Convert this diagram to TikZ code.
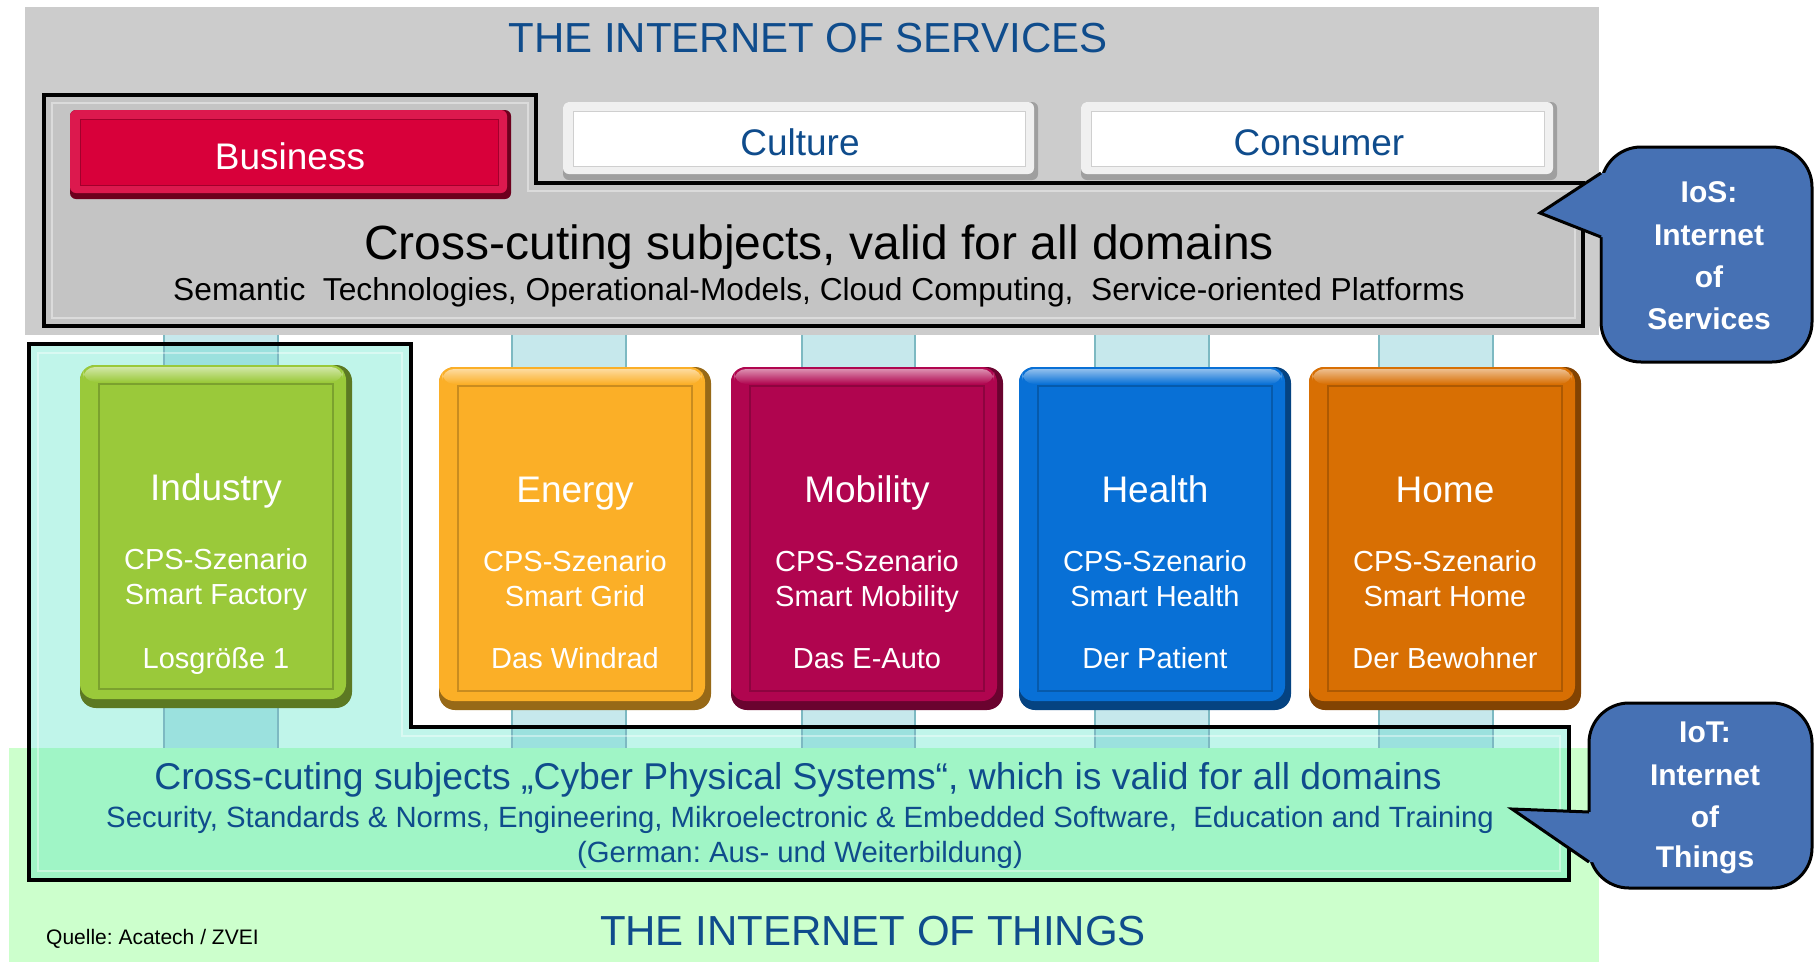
\documentclass[tikz,border=0pt]{standalone}
\usepackage{fontspec}
\setmainfont{Liberation Sans}
\frenchspacing
\definecolor{bandgray}{HTML}{CCCCCC}
\definecolor{svcgray}{HTML}{C4C4C4}
\definecolor{lightgreen}{HTML}{CCFFCC}
\definecolor{mint}{HTML}{A0F5C6}
\definecolor{cyanL}{HTML}{C0F5EA}
\definecolor{pillar}{HTML}{4FB8C7}
\definecolor{pillaredge}{HTML}{7DB9C2}
\definecolor{titleblue}{HTML}{0F4C8C}
\definecolor{calloutblue}{HTML}{4671B4}
\definecolor{bizred}{HTML}{D8003A}
\definecolor{indgreen}{HTML}{9AC93A}
\definecolor{engyellow}{HTML}{FBAF27}
\definecolor{mobmagenta}{HTML}{B0054F}
\definecolor{hlthblue}{HTML}{0870D6}
\definecolor{homeorange}{HTML}{D86F03}
\colorlet{bizedge}{bizred!50!black}
\colorlet{bizlight}{bizred!90!white}
\colorlet{tabedge}{gray!75}
\colorlet{tablight}{gray!12}
\newcommand\pxfont[1]{\fontsize{#1}{#1}\selectfont}
% domain box: x0, y0, x1, y1, colour
\newcommand\DomainBox[5]{%
  \fill[#5!60!black, rounded corners=16] (#1,#2) rectangle (#3,#4);
  \fill[#5, rounded corners=15] (#1,#2) rectangle (#3-6,#4-9);
  \shade[top color=#5!45!white, bottom color=#5, rounded corners=12] (#1+3,#2+2) rectangle (#3-9,#2+17);
  \draw[#5!80!black, line width=1.2] (#1+19,#2+19) rectangle (#3-19,#4-19);
}
% bevelled tab: x0, y0, x1, y1, face, light edge, dark edge
\newcommand\TabBox[7]{%
  \fill[#7, rounded corners=6] (#1,#2) rectangle (#3,#4);
  \fill[#6, rounded corners=6] (#1,#2) rectangle (#3-4,#4-6);
  \fill[#5] (#1+10,#2+9) rectangle (#3-13,#4-14);
  \draw[#7!50!#5, line width=1] (#1+10,#2+9) rectangle (#3-13,#4-14);
}
\begin{document}
\begin{tikzpicture}[x=1pt,y=-1pt,
  txt/.style={inner sep=0pt, anchor=base},
  bigtitle/.style={txt, text=titleblue, font=\pxfont{42}},
  tabtext/.style={txt, font=\pxfont{37}},
  domtitle/.style={txt, text=white, font=\pxfont{37}},
  domtext/.style={txt, text=white, font=\pxfont{29}},
  callouttext/.style={txt, text=white, font=\pxfont{30}\bfseries},
  calloutshape/.style={fill=calloutblue, draw=black, line width=3, rounded corners=40},
  outline/.style={draw=black, line width=4, line join=miter},
  bevel/.style={draw=white, opacity=0.4, line width=2},
  pillarbar/.style={fill=pillar, fill opacity=0.32}]
\useasboundingbox (0,0) rectangle (1816,962);
\fill[white] (0,0) rectangle (1816,962);

% background bands
\fill[bandgray] (25,7) rectangle (1599,335);
\fill[cyanL] (29,344) -- (411,344) -- (411,727) -- (1569,727) -- (1569,880) -- (29,880) -- cycle;
\fill[lightgreen] (9,748) rectangle (1599,962);
\fill[mint] (29,748) rectangle (1569,880);

% pillars linking services and things
\foreach \xa/\xb in {163/279, 511/627, 801/916, 1094/1210, 1378/1494} {
  \fill[pillarbar] (\xa,335) rectangle (\xb,748);
  \draw[pillaredge, line width=2] (\xa+1,335) -- (\xa+1,748);
  \draw[pillaredge, line width=2] (\xb-1,335) -- (\xb-1,748);
}

% CPS frame
\draw[outline] (29,344) -- (411,344) -- (411,727) -- (1569,727) -- (1569,880) -- (29,880) -- cycle;
\draw[bevel] (38,353) -- (402,353) -- (402,736) -- (1560,736) -- (1560,871) -- (38,871) -- cycle;

% services frame
\draw[outline, fill=svcgray] (44,95) -- (536,95) -- (536,183) -- (1583,183) -- (1583,326) -- (44,326) -- cycle;
\draw[bevel] (52,103) -- (528,103) -- (528,191) -- (1575,191) -- (1575,318) -- (52,318) -- cycle;

% service domains
\TabBox{70}{110}{511}{199}{bizred}{bizlight}{bizedge}
\TabBox{563}{102}{1038}{180}{white}{tablight}{tabedge}
\TabBox{1081}{102}{1557}{180}{white}{tablight}{tabedge}
\node[tabtext, text=white] (business) at (290,169) {Business};
\node[tabtext, text=titleblue] (culture) at (800,155) {Culture};
\node[tabtext, text=titleblue] (consumer) at (1319,155) {Consumer};

\node[bigtitle] (ios-title) at (808,52) {THE INTERNET OF SERVICES};
\node[txt, font=\pxfont{48}] (ios-cross) at (819,259) {Cross-cuting subjects, valid for all domains};
\node[txt, font=\pxfont{31.7}] (ios-list) at (819,300) {Semantic~ Technologies, Operational-Models, Cloud Computing,~ Service-oriented Platforms};

% application domains
\foreach \n/\xa/\xb/\dy/\col/\ttl/\scn/\who in {
  industry/80/352/-2/indgreen/Industry/Smart Factory/Losgröße 1,
  energy/439/711/0/engyellow/Energy/Smart Grid/Das Windrad,
  mobility/731/1003/0/mobmagenta/Mobility/Smart Mobility/Das E-Auto,
  health/1019/1291/0/hlthblue/Health/Smart Health/Der Patient,
  home/1309/1581/0/homeorange/Home/Smart Home/Der Bewohner} {
  \DomainBox{\xa}{367+\dy}{\xb}{710+\dy}{\col}
  \node[domtitle] (\n-title) at ({(\xa+\xb)/2},{502+\dy}) {\ttl};
  \node[domtext] (\n-cps) at ({(\xa+\xb)/2},{571+\dy}) {CPS-Szenario};
  \node[domtext] (\n-scenario) at ({(\xa+\xb)/2},{606+\dy}) {\scn};
  \node[domtext] (\n-example) at ({(\xa+\xb)/2},668) {\who};
}

% cyber physical systems texts
\node[txt, text=titleblue, font=\pxfont{37.3}] (iot-cross) at (798,789) {Cross-cuting subjects „Cyber Physical Systems“, which is valid for all domains};
\node[txt, text=titleblue, font=\pxfont{29.3}] (iot-list) at (800,827) {Security, Standards \& Norms, Engineering, Mikroelectronic \& Embedded Software,~ Education and Training};
\node[txt, text=titleblue, font=\pxfont{29.3}] (iot-german) at (800,862) {(German: Aus- und Weiterbildung)};
\node[bigtitle] (iot-title) at (873,945) {THE INTERNET OF THINGS};
\node[txt, anchor=base west, font=\pxfont{21}] (source) at (46,944) {Quelle: Acatech / ZVEI};

% IoS callout
\path[calloutshape] (1601,147) rectangle (1812,362);
\fill[calloutblue] (1540,213) -- (1601,173) -- (1612,173) -- (1612,237) -- (1601,237) -- cycle;
\draw[black, line width=3, line join=miter] (1601,173) -- (1540,213) -- (1601,237);
\node[callouttext] (ios-1) at (1709,202) {IoS:};
\node[callouttext] (ios-2) at (1709,245) {Internet};
\node[callouttext] (ios-3) at (1709,287) {of};
\node[callouttext] (ios-4) at (1709,329) {Services};

% IoT callout
\path[calloutshape] (1589,703) rectangle (1812,888);
\fill[calloutblue] (1512,809) -- (1589,812) -- (1600,812) -- (1600,862) -- (1589,862) -- cycle;
\draw[black, line width=3, line join=miter] (1589,812) -- (1512,809) -- (1589,862);
\node[callouttext] (iot-1) at (1705,742) {IoT:};
\node[callouttext] (iot-2) at (1705,785) {Internet};
\node[callouttext] (iot-3) at (1705,827) {of};
\node[callouttext] (iot-4) at (1705,867) {Things};
\end{tikzpicture}
\end{document}
